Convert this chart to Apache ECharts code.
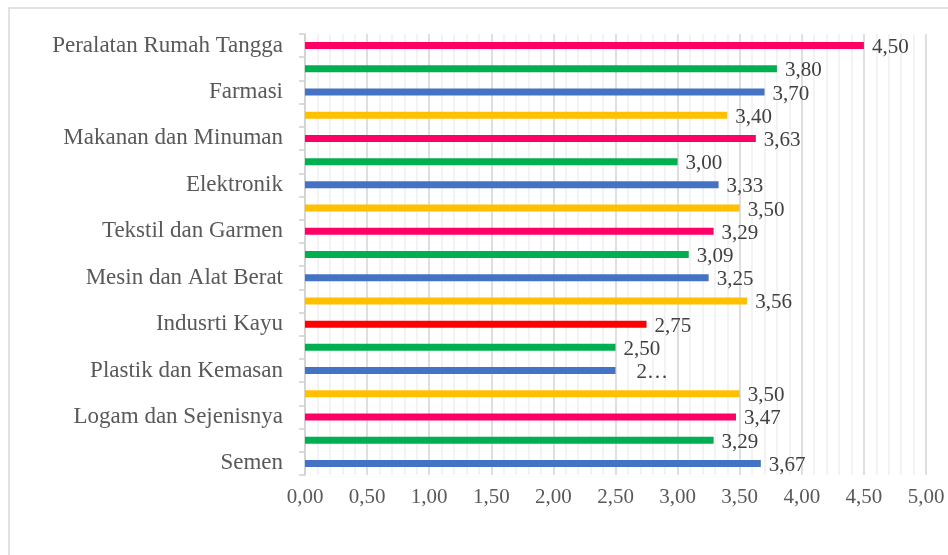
<!DOCTYPE html>
<html>
<head>
<meta charset="utf-8">
<script src="https://cdn.jsdelivr.net/npm/echarts@6/dist/echarts.min.js"></script>
<style>
  html, body { margin: 0; padding: 0; background: #ffffff; }
  #chart { width: 948px; height: 555px; }
</style>
</head>
<body>
<div id="chart"></div>
<script>
// Rows listed bottom to top; only every other row carries a sector name.
const categories = [
  'Semen', '', 'Logam dan Sejenisnya', '', 'Plastik dan Kemasan', '',
  'Indusrti Kayu', '', 'Mesin dan Alat Berat', '', 'Tekstil dan Garmen', '',
  'Elektronik', '', 'Makanan dan Minuman', '', 'Farmasi', '', 'Peralatan Rumah Tangga'
];
const values = [
  3.67, 3.29, 3.47, 3.50, 2.50, 2.50,
  2.75, 3.56, 3.25, 3.09, 3.29, 3.50,
  3.33, 3.00, 3.63, 3.40, 3.70, 3.80, 4.50
];
const barColors = [
  '#4472C4', '#00B050', '#FF0066', '#FFC000', '#4472C4', '#00B050',
  '#FF0000', '#FFC000', '#4472C4', '#00B050', '#FF0066', '#FFC000',
  '#4472C4', '#00B050', '#FF0066', '#FFC000', '#4472C4', '#00B050', '#FF0066'
];
const xTicks = { min: 0, max: 5, interval: 0.5 };
// Row whose value label is clipped to its first digit.
const clippedLabelRow = 4;

const FONT = '"Liberation Serif", "DejaVu Serif", serif';
const FONT_SIZE = 21;
const fmt = v => v.toFixed(2).replace('.', ',');

const seriesData = values.map((v, i) => {
  const item = { value: v, itemStyle: { color: barColors[i] } };
  if (i === clippedLabelRow) {
    item.label = { width: 36, overflow: 'truncate', ellipsis: '…', distance: 21 };
  }
  return item;
});

const chart = echarts.init(document.getElementById('chart'), null, { renderer: 'canvas' });
chart.setOption({
  animation: false,
  backgroundColor: '#ffffff',
  graphic: [{
    type: 'rect',
    shape: { x: 9, y: 8, width: 960, height: 600 },
    style: { fill: 'none', stroke: '#d9d9d9', lineWidth: 1.5 },
    silent: true
  }],
  grid: { left: 305, right: 22, top: 34, bottom: 80, containLabel: false },
  xAxis: {
    type: 'value',
    min: xTicks.min, max: xTicks.max, interval: xTicks.interval,
    axisLine: { show: false },
    axisTick: { show: false },
    axisLabel: {
      color: '#595959', fontFamily: FONT, fontSize: FONT_SIZE, margin: 12,
      formatter: v => fmt(v)
    },
    splitLine: { show: true, lineStyle: { color: '#d4d4d4', width: 1.5 } },
    minorTick: { show: false, splitNumber: 5 },
    minorSplitLine: { show: true, lineStyle: { color: '#efefef', width: 1.5 } }
  },
  yAxis: {
    type: 'category',
    data: categories,
    axisLine: { show: true, lineStyle: { color: '#d0d0d0', width: 1.5 } },
    axisTick: { show: true, length: 6, interval: 0, lineStyle: { color: '#d0d0d0', width: 1.5 } },
    axisLabel: {
      interval: 0, color: '#595959', fontFamily: FONT, fontSize: 23, margin: 22
    },
    splitLine: { show: false }
  },
  series: [{
    type: 'bar',
    data: seriesData,
    barWidth: 7,
    label: {
      show: true, position: 'right', distance: 8, offset: [0, 2],
      color: '#404040', fontFamily: FONT, fontSize: FONT_SIZE,
      formatter: p => fmt(p.value)
    }
  }]
});
</script>
</body>
</html>
